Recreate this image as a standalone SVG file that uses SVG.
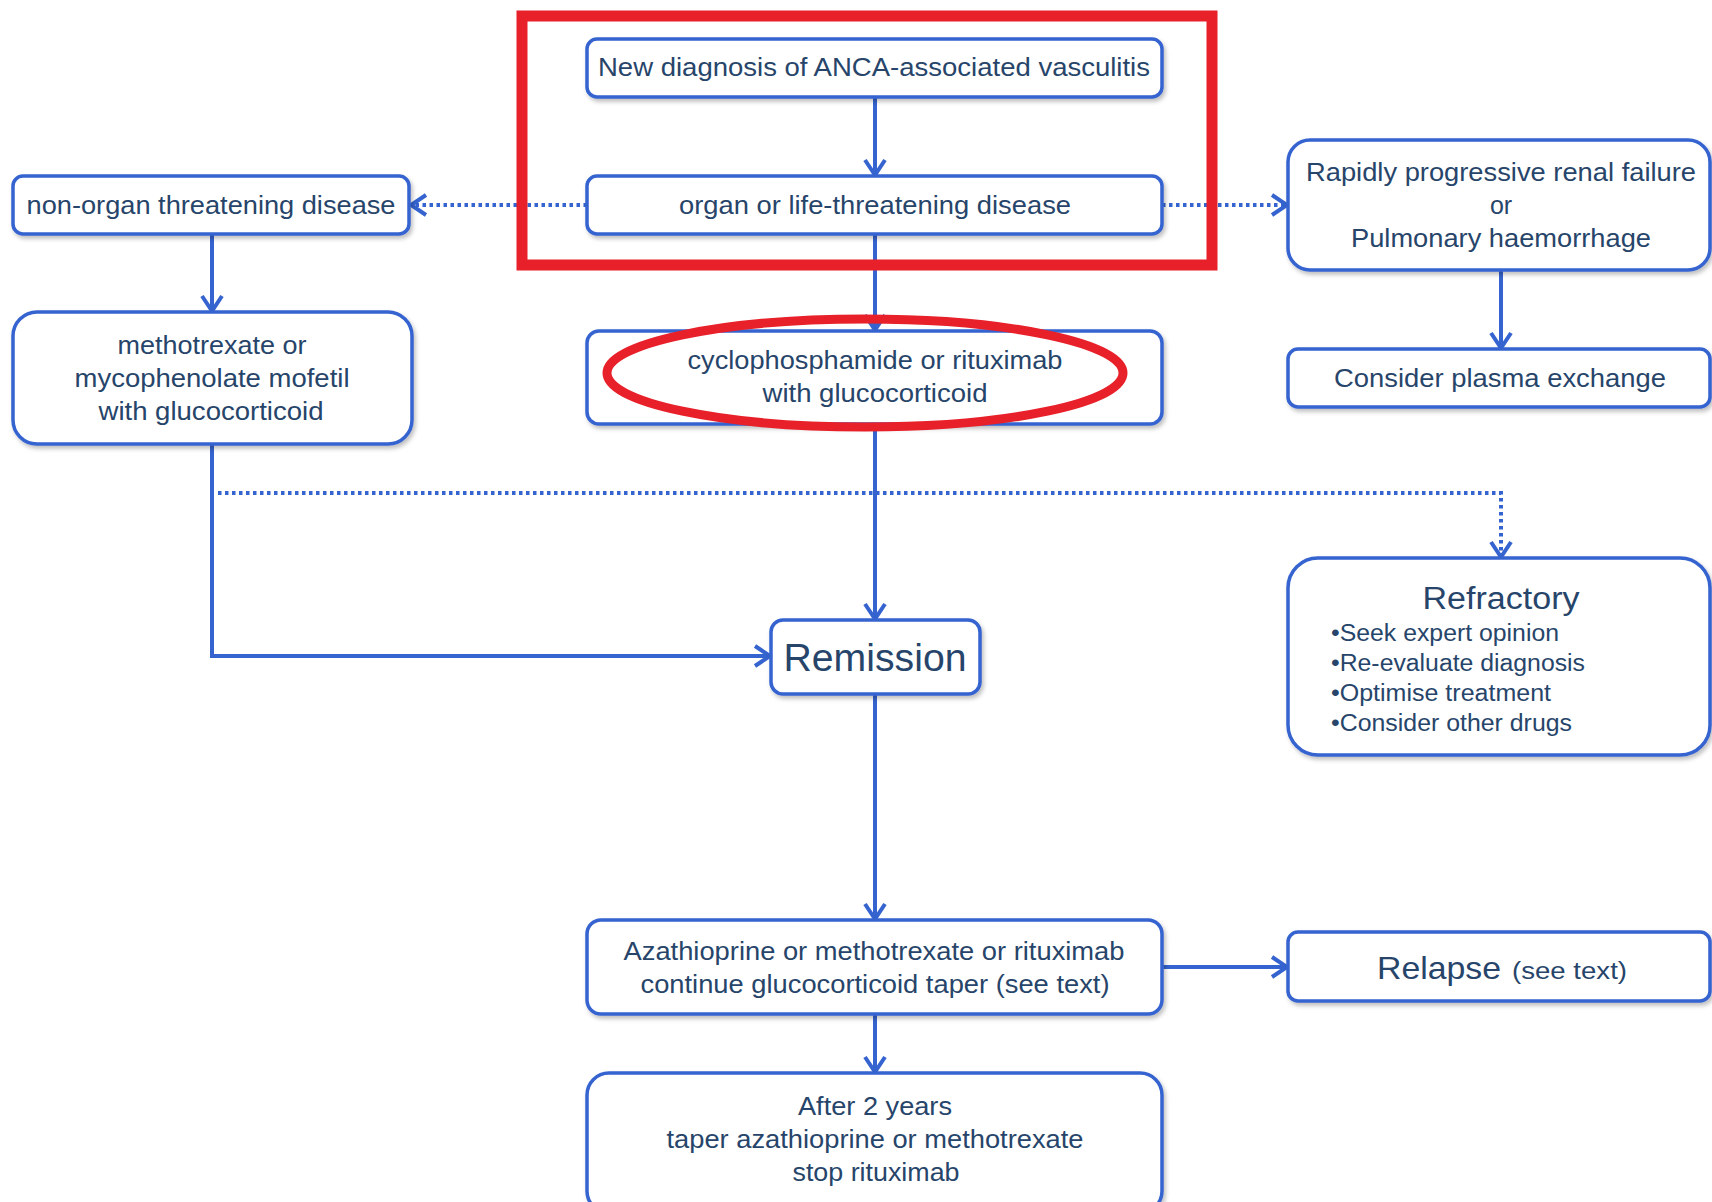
<svg xmlns="http://www.w3.org/2000/svg" width="1712" height="1202" viewBox="0 0 1712 1202">
<style>
.box{fill:#ffffff;stroke:#3563cf;stroke-width:3.5;filter:url(#sh)}
.t{font-family:"Liberation Sans",Arial,sans-serif;fill:#27456a;text-anchor:middle;font-size:25px}
.tl{font-family:"Liberation Sans",Arial,sans-serif;fill:#27456a;font-size:23px}
.ln{fill:none;stroke:#3563cf;stroke-width:4}
.dot{fill:none;stroke:#3563cf;stroke-width:4;stroke-dasharray:3.5 3.5}
</style>
<defs>
<filter id="sh" x="-5%" y="-5%" width="110%" height="120%">
<feDropShadow dx="2" dy="3" stdDeviation="2" flood-color="#000" flood-opacity="0.25"/>
</filter>
<marker id="ar" viewBox="0 0 20 24" refX="18" refY="12" markerWidth="20" markerHeight="24" markerUnits="userSpaceOnUse" orient="auto">
<path d="M3,2 L18,12 L3,22" fill="none" stroke="#3563cf" stroke-width="4"/>
</marker>
</defs>
<rect width="1712" height="1202" fill="#ffffff"/>

<g id="connectors">
<line class="ln" x1="875" y1="97" x2="875" y2="175" marker-end="url(#ar)"/>
<line class="ln" x1="875" y1="234" x2="875" y2="330" marker-end="url(#ar)"/>
<line class="dot" x1="587" y1="205" x2="411" y2="205" marker-end="url(#ar)"/>
<line class="dot" x1="1162" y1="205" x2="1287" y2="205" marker-end="url(#ar)"/>
<line class="ln" x1="212" y1="234" x2="212" y2="311" marker-end="url(#ar)"/>
<line class="ln" x1="1501" y1="270" x2="1501" y2="348" marker-end="url(#ar)"/>
<line class="ln" x1="875" y1="424" x2="875" y2="619" marker-end="url(#ar)"/>
<polyline class="ln" points="212,444 212,656 770,656" marker-end="url(#ar)"/>
<polyline class="dot" points="218,493 1501,493 1501,557" marker-end="url(#ar)"/>
<line class="ln" x1="875" y1="694" x2="875" y2="919" marker-end="url(#ar)"/>
<line class="ln" x1="1162" y1="967" x2="1287" y2="967" marker-end="url(#ar)"/>
<line class="ln" x1="875" y1="1014" x2="875" y2="1072" marker-end="url(#ar)"/>
</g>

<g id="n-new">
<rect class="box" x="587" y="39" width="575" height="58" rx="10"/>
<text class="t" x="874" y="76" textLength="552" lengthAdjust="spacingAndGlyphs">New diagnosis of ANCA-associated vasculitis</text>
</g>
<g id="n-organ">
<rect class="box" x="587" y="176" width="575" height="58" rx="10"/>
<text class="t" x="875" y="214" textLength="392" lengthAdjust="spacingAndGlyphs">organ or life-threatening disease</text>
</g>
<g id="n-nonorgan">
<rect class="box" x="13" y="176" width="396" height="58" rx="10"/>
<text class="t" x="211" y="214" textLength="369" lengthAdjust="spacingAndGlyphs">non-organ threatening disease</text>
</g>
<g id="n-mtx">
<rect class="box" x="13" y="312" width="399" height="132" rx="24"/>
<text class="t" x="212" y="354" textLength="189" lengthAdjust="spacingAndGlyphs">methotrexate or</text>
<text class="t" x="212" y="387" textLength="275" lengthAdjust="spacingAndGlyphs">mycophenolate mofetil</text>
<text class="t" x="211" y="420" textLength="225" lengthAdjust="spacingAndGlyphs">with glucocorticoid</text>
</g>
<g id="n-cyc">
<rect class="box" x="587" y="331" width="575" height="93" rx="12"/>
<text class="t" x="875" y="369" textLength="375" lengthAdjust="spacingAndGlyphs">cyclophosphamide or rituximab</text>
<text class="t" x="875" y="402" textLength="225" lengthAdjust="spacingAndGlyphs">with glucocorticoid</text>
</g>
<g id="n-rapid">
<rect class="box" x="1288" y="140" width="422" height="130" rx="22"/>
<text class="t" x="1501" y="181" textLength="390" lengthAdjust="spacingAndGlyphs">Rapidly progressive renal failure</text>
<text class="t" x="1501" y="214">or</text>
<text class="t" x="1501" y="247" textLength="300" lengthAdjust="spacingAndGlyphs">Pulmonary haemorrhage</text>
</g>
<g id="n-plasma">
<rect class="box" x="1288" y="349" width="422" height="58" rx="10"/>
<text class="t" x="1500" y="387" textLength="332" lengthAdjust="spacingAndGlyphs">Consider plasma exchange</text>
</g>
<g id="n-remission">
<rect class="box" x="771" y="620" width="209" height="74" rx="12"/>
<text class="t" x="875" y="671" style="font-size:38px" textLength="183" lengthAdjust="spacingAndGlyphs">Remission</text>
</g>
<g id="n-refractory">
<rect class="box" x="1288" y="558" width="422" height="197" rx="30"/>
<text class="t" x="1501" y="609" style="font-size:31px" textLength="157" lengthAdjust="spacingAndGlyphs">Refractory</text>
<text class="tl" x="1331" y="641" textLength="228" lengthAdjust="spacingAndGlyphs">•Seek expert opinion</text>
<text class="tl" x="1331" y="671" textLength="254" lengthAdjust="spacingAndGlyphs">•Re-evaluate diagnosis</text>
<text class="tl" x="1331" y="701" textLength="220" lengthAdjust="spacingAndGlyphs">•Optimise treatment</text>
<text class="tl" x="1331" y="731" textLength="241" lengthAdjust="spacingAndGlyphs">•Consider other drugs</text>
</g>
<g id="n-aza">
<rect class="box" x="587" y="920" width="575" height="94" rx="14"/>
<text class="t" x="874" y="960" textLength="501" lengthAdjust="spacingAndGlyphs">Azathioprine or methotrexate or rituximab</text>
<text class="t" x="875" y="993" textLength="469" lengthAdjust="spacingAndGlyphs">continue glucocorticoid taper (see text)</text>
</g>
<g id="n-relapse">
<rect class="box" x="1288" y="932" width="422" height="69" rx="10"/>
<text class="tl" x="1377" y="979" style="font-size:32px" textLength="124" lengthAdjust="spacingAndGlyphs">Relapse</text>
<text class="tl" x="1512" y="979" style="font-size:23px" textLength="115" lengthAdjust="spacingAndGlyphs">(see text)</text>
</g>
<g id="n-after">
<rect class="box" x="587" y="1073" width="575" height="140" rx="22"/>
<text class="t" x="875" y="1115" textLength="154" lengthAdjust="spacingAndGlyphs">After 2 years</text>
<text class="t" x="875" y="1148" textLength="417" lengthAdjust="spacingAndGlyphs">taper azathioprine or methotrexate</text>
<text class="t" x="876" y="1181" textLength="167" lengthAdjust="spacingAndGlyphs">stop rituximab</text>
</g>

<g id="highlights">
<rect x="522" y="16" width="690" height="249" fill="none" stroke="#e8202a" stroke-width="11"/>
<ellipse cx="865" cy="373" rx="258" ry="54" fill="none" stroke="#e8202a" stroke-width="9"/>
</g>
</svg>
